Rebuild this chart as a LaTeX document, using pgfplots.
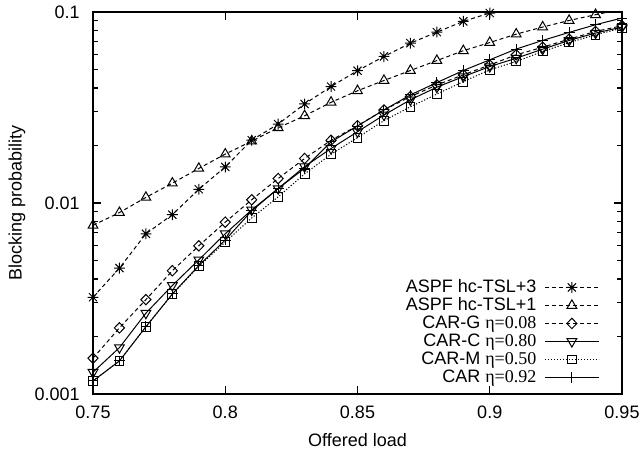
\documentclass[border=0pt]{standalone}
\usepackage{pgfplots}
\pgfplotsset{compat=1.18}
\usepackage{fontspec}
\setmainfont{Liberation Sans}
\newfontfamily\serif{Liberation Serif}
\usetikzlibrary{calc}
\pgfdeclareplotmark{gpstar}{%
  \pgfpathmoveto{\pgfqpoint{-\pgfplotmarksize}{0pt}}\pgfpathlineto{\pgfqpoint{\pgfplotmarksize}{0pt}}%
  \pgfpathmoveto{\pgfqpoint{0pt}{-\pgfplotmarksize}}\pgfpathlineto{\pgfqpoint{0pt}{\pgfplotmarksize}}%
  \pgfpathmoveto{\pgfqpoint{-.75\pgfplotmarksize}{-.75\pgfplotmarksize}}\pgfpathlineto{\pgfqpoint{.75\pgfplotmarksize}{.75\pgfplotmarksize}}%
  \pgfpathmoveto{\pgfqpoint{-.75\pgfplotmarksize}{.75\pgfplotmarksize}}\pgfpathlineto{\pgfqpoint{.75\pgfplotmarksize}{-.75\pgfplotmarksize}}%
  \pgfusepathqstroke}
\begin{document}
\fontsize{9}{10.8}\selectfont
\begin{tikzpicture}
\begin{axis}[
  scale only axis, width=264.5pt, height=191pt,
  xmin=0.75, xmax=0.95, ymode=log, ymin=0.001, ymax=0.1,
  xtick={0.75,0.8,0.85,0.9,0.95}, xticklabels={0.75,0.8,0.85,0.9,0.95},
  ytick={0.001,0.01,0.1}, yticklabels={0.001,0.01,0.1},
  minor ytick={0.002,0.003,0.004,0.005,0.006,0.007,0.008,0.009,0.02,0.03,0.04,0.05,0.06,0.07,0.08,0.09},
  major tick length=4pt, minor tick length=2.5pt,
  axis line style={line width=0.9pt},
  every tick/.style={black, line width=0.6pt},
  xticklabel style={yshift=-3pt},
  yticklabel style={xshift=-3.5pt},
  xlabel={Offered load}, ylabel={Blocking probability},
  xlabel style={at={(axis description cs:0.5,-0.1204)}, anchor=center},
  ylabel style={at={(axis description cs:-0.1437,0.5)}, anchor=center},
  legend plot pos=right,
  legend cell align=right,
  legend style={draw=none, fill=none, at={(0.958,0.02)}, anchor=south east,
    inner sep=0pt,
    nodes={inner xsep=1pt, inner ysep=0pt, text height=6.6pt, text depth=1.9pt},
    row sep=0.5pt, column sep=3pt},
  legend image code/.code={\draw[mark repeat=2,mark phase=2] plot coordinates {(0pt,0pt) (13.5pt,0pt) (27pt,0pt)};},
  every axis plot/.append style={black, line width=0.5pt, mark options={solid, line width=0.5pt}},
]
\coordinate (bl) at (rel axis cs:0,0);
\coordinate (tr) at (rel axis cs:1,1);
\addplot[dash pattern=on 2pt off 1.5pt, mark=gpstar, mark size=2.7pt] coordinates {
(0.75,0.00321) (0.76,0.00456) (0.77,0.0069) (0.78,0.00869) (0.79,0.0118) (0.80,0.01545)
(0.81,0.02133) (0.82,0.02588) (0.83,0.0330) (0.84,0.0407) (0.85,0.0493) (0.86,0.0585)
(0.87,0.0687) (0.88,0.0785) (0.89,0.0893) (0.90,0.0988) (0.91,0.110)};
\addlegendentry{ASPF hc-TSL+3}
\addplot[dash pattern=on 2pt off 1.5pt, mark=triangle, mark size=2.8pt] coordinates {
(0.75,0.00764) (0.76,0.00891) (0.77,0.0107) (0.78,0.0127) (0.79,0.01517) (0.80,0.01803)
(0.81,0.02109) (0.82,0.02476) (0.83,0.02862) (0.84,0.03367) (0.85,0.0387) (0.86,0.0438)
(0.87,0.0494) (0.88,0.0557) (0.89,0.0627) (0.90,0.0692) (0.91,0.0766) (0.92,0.0834)
(0.93,0.0903) (0.94,0.0968) (0.95,0.1035)};
\addlegendentry{ASPF hc-TSL+1}
\addplot[dash pattern=on 2pt off 1.5pt, mark=diamond, mark size=2.6pt, mark options={solid, xscale=1.3}] coordinates {
(0.75,0.00154) (0.76,0.00222) (0.77,0.00312) (0.78,0.00442) (0.79,0.00597) (0.80,0.00794)
(0.81,0.0104) (0.82,0.01343) (0.83,0.0171) (0.84,0.0213) (0.85,0.0254) (0.86,0.0307)
(0.87,0.0361) (0.88,0.0415) (0.89,0.0469) (0.90,0.0528) (0.91,0.0597) (0.92,0.0654)
(0.93,0.0721) (0.94,0.0791) (0.95,0.0847)};
\addlegendentry{CAR-G {\serif η=0.08}}
\addplot[solid, mark=triangle, mark size=2.8pt, mark options={solid, rotate=180}] coordinates {
(0.75,0.0013) (0.76,0.00175) (0.77,0.00265) (0.78,0.0037) (0.79,0.00504) (0.80,0.0069)
(0.81,0.0092) (0.82,0.0119) (0.83,0.0155) (0.84,0.0193) (0.85,0.0236) (0.86,0.0289)
(0.87,0.0347) (0.88,0.0404) (0.89,0.0459) (0.90,0.0518) (0.91,0.0573) (0.92,0.0639)
(0.93,0.0710) (0.94,0.0776) (0.95,0.0834)};
\addlegendentry{CAR-C {\serif η=0.80}}
\addplot[dash pattern=on 0.6pt off 0.9pt, mark=square, mark size=2.2pt] coordinates {
(0.75,0.00117) (0.76,0.00149) (0.77,0.00225) (0.78,0.00333) (0.79,0.00466) (0.80,0.00625)
(0.81,0.00835) (0.82,0.01077) (0.83,0.0142) (0.84,0.0180) (0.85,0.0220) (0.86,0.0270)
(0.87,0.0319) (0.88,0.0372) (0.89,0.0432) (0.90,0.0498) (0.91,0.0551) (0.92,0.0621)
(0.93,0.0692) (0.94,0.0760) (0.95,0.0824)};
\addlegendentry{CAR-M {\serif η=0.50}}
\addplot[solid, mark=+, mark size=2.7pt] coordinates {
(0.75,0.00117) (0.76,0.00149) (0.77,0.00225) (0.78,0.00334) (0.79,0.0047) (0.80,0.0064)
(0.81,0.0091) (0.82,0.0119) (0.83,0.0152) (0.84,0.0209) (0.85,0.0253) (0.86,0.0307)
(0.87,0.0368) (0.88,0.0427) (0.89,0.0494) (0.90,0.0562) (0.91,0.0640) (0.92,0.0710)
(0.93,0.0782) (0.94,0.0858) (0.95,0.0930)};
\addlegendentry{CAR {\serif η=0.92}}
\end{axis}
\pgfresetboundingbox
\path ($(bl)+(-46.5pt,-30.5pt)$) rectangle ($(tr)+(10pt,6pt)$);
\end{tikzpicture}
\end{document}
